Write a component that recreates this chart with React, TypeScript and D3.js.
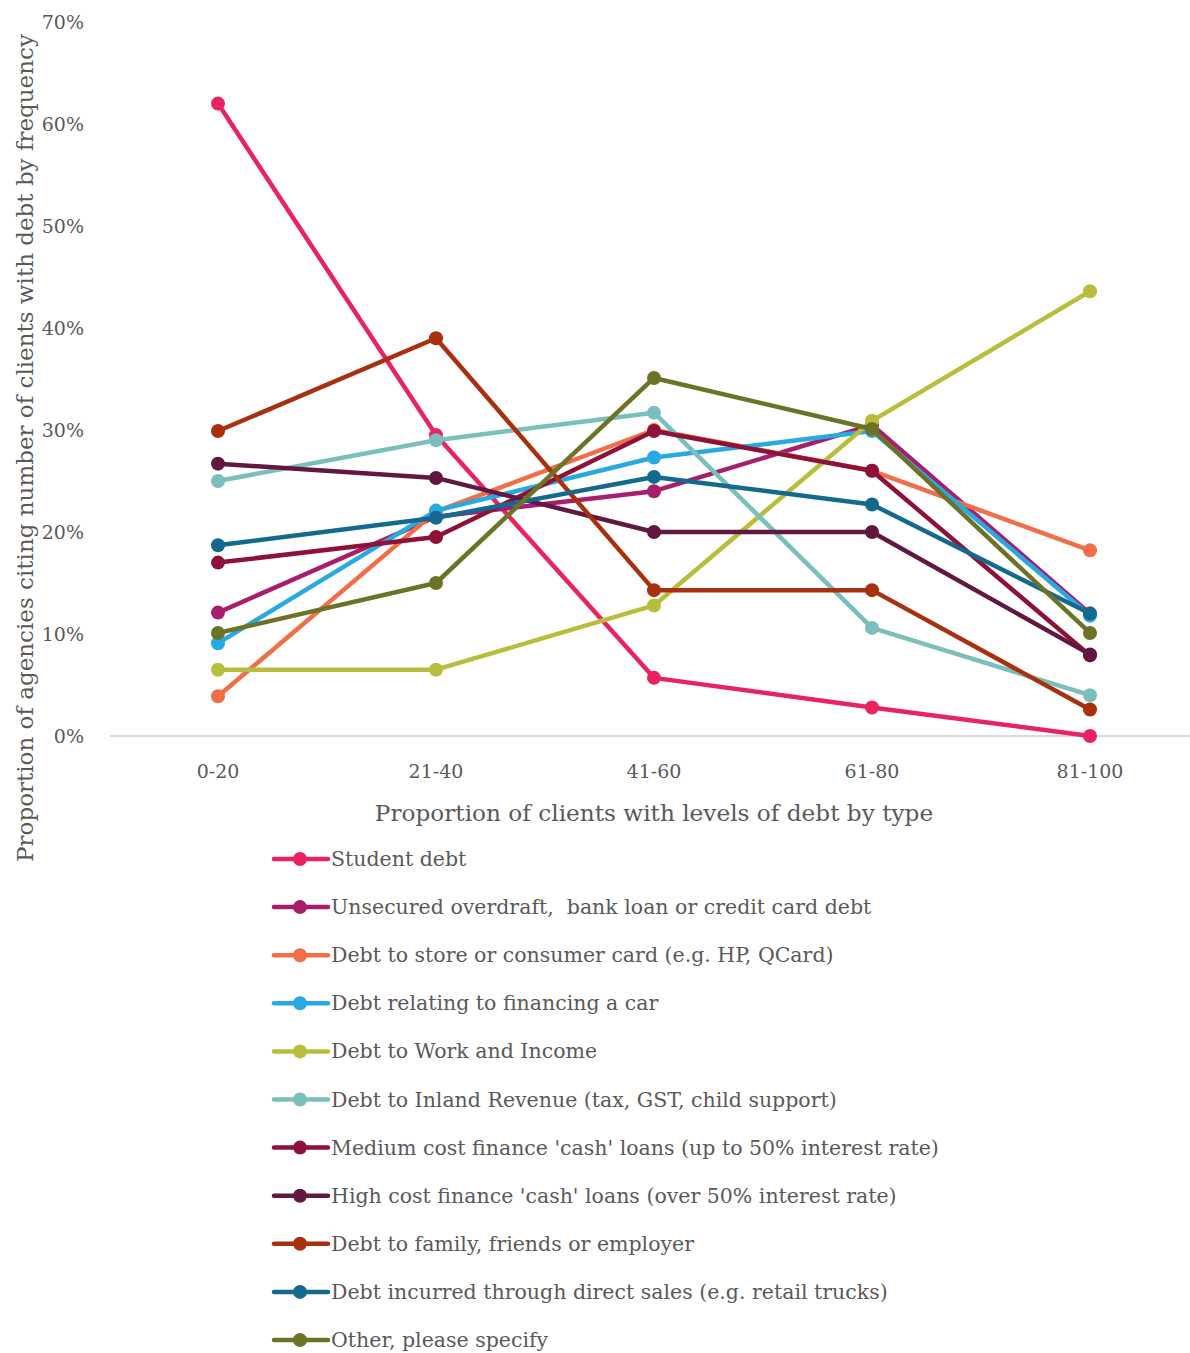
import { useEffect, useRef } from "react"
import * as d3 from "d3"

const categories = ["0-20", "21-40", "41-60", "61-80", "81-100"]

const seriesNames = [
  "Student debt",
  "Unsecured overdraft,  bank loan or credit card debt",
  "Debt to store or consumer card (e.g. HP, QCard)",
  "Debt relating to financing a car",
  "Debt to Work and Income",
  "Debt to Inland Revenue (tax, GST, child support)",
  "Medium cost finance 'cash' loans (up to 50% interest rate)",
  "High cost finance 'cash' loans (over 50% interest rate)",
  "Debt to family, friends or employer",
  "Debt incurred through direct sales (e.g. retail trucks)",
  "Other, please specify",
]

const studentDebt = [0.62, 0.295, 0.057, 0.028, 0.0]
const unsecured = [0.121, 0.215, 0.24, 0.305, 0.12]
const storeCard = [0.039, 0.22, 0.3, 0.26, 0.182]
const carDebt = [0.091, 0.221, 0.273, 0.299, 0.118]
const workIncome = [0.065, 0.065, 0.128, 0.309, 0.436]
const inlandRevenue = [0.25, 0.29, 0.317, 0.106, 0.04]
const mediumCost = [0.17, 0.195, 0.299, 0.26, 0.079]
const highCost = [0.267, 0.253, 0.2, 0.2, 0.08]
const family = [0.299, 0.39, 0.143, 0.143, 0.026]
const directSales = [0.187, 0.214, 0.254, 0.227, 0.12]
const other = [0.101, 0.15, 0.351, 0.301, 0.101]

const allValues = [
  studentDebt, unsecured, storeCard, carDebt, workIncome, inlandRevenue,
  mediumCost, highCost, family, directSales, other,
]

const colors = [
  "#E8235F", "#A61E6C", "#F06E48", "#29A9E1", "#B8BE3C", "#7ABFBC",
  "#8E1238", "#611741", "#A8300F", "#146A8E", "#6C7327",
]

const yTicks = [0, 0.1, 0.2, 0.3, 0.4, 0.5, 0.6, 0.7]

export default function App() {
  const svgRef = useRef<SVGSVGElement>(null)

  useEffect(() => {
    if (!svgRef.current) return
    const svg = d3.select(svgRef.current)
    svg.selectAll("*").remove()

    const font = "'DejaVu Serif', serif"
    const textColor = "#595959"

    // Scales (page coords, svg sits at 0,0 of viewport)
    const x = d3.scalePoint().domain(categories).range([218, 1090])
    const y = d3.scaleLinear().domain([0, 0.7]).range([736, 22])

    // Baseline
    svg.append("line")
      .attr("x1", 110).attr("x2", 1190)
      .attr("y1", y(0)).attr("y2", y(0))
      .attr("stroke", "#d9d9d9").attr("stroke-width", 2)

    // Y tick labels
    svg.append("g")
      .selectAll("text")
      .data(yTicks)
      .enter()
      .append("text")
      .attr("x", 84)
      .attr("y", (d) => y(d) + 7)
      .attr("text-anchor", "end")
      .attr("font-family", font)
      .attr("font-size", 19)
      .attr("fill", textColor)
      .text((d) => `${Math.round(d * 100)}%`)

    // X tick labels
    svg.append("g")
      .selectAll("text")
      .data(categories)
      .enter()
      .append("text")
      .attr("x", (d) => x(d) || 0)
      .attr("y", 778)
      .attr("text-anchor", "middle")
      .attr("font-family", font)
      .attr("font-size", 19)
      .attr("fill", textColor)
      .text((d) => d)

    // Axis titles
    svg.append("text")
      .attr("x", 654)
      .attr("y", 821)
      .attr("text-anchor", "middle")
      .attr("font-family", font)
      .attr("font-size", 23.2)
      .attr("fill", textColor)
      .text("Proportion of clients with levels of debt by type")

    svg.append("text")
      .attr("transform", "translate(33,448) rotate(-90)")
      .attr("text-anchor", "middle")
      .attr("font-family", font)
      .attr("font-size", 23)
      .attr("fill", textColor)
      .text("Proportion of agencies citing number of clients with debt by frequency")

    // Lines and markers
    const line = d3.line<number>()
      .x((_, i) => x(categories[i]) || 0)
      .y((d) => y(d))

    allValues.forEach((vals, si) => {
      const g = svg.append("g")
      g.append("path")
        .datum(vals)
        .attr("d", line)
        .attr("fill", "none")
        .attr("stroke", colors[si])
        .attr("stroke-width", 4.5)
        .attr("stroke-linejoin", "round")
      g.selectAll("circle")
        .data(vals)
        .enter()
        .append("circle")
        .attr("cx", (_, i) => x(categories[i]) || 0)
        .attr("cy", (d) => y(d))
        .attr("r", 7)
        .attr("fill", colors[si])
    })

    // Legend
    const legend = svg.append("g")
    seriesNames.forEach((name, i) => {
      const ly = 859 + i * 48.1
      const item = legend.append("g")
      item.append("line")
        .attr("x1", 274).attr("x2", 328)
        .attr("y1", ly).attr("y2", ly)
        .attr("stroke", colors[i])
        .attr("stroke-width", 4.5)
        .attr("stroke-linecap", "round")
      item.append("circle")
        .attr("cx", 300).attr("cy", ly).attr("r", 7)
        .attr("fill", colors[i])
      item.append("text")
        .attr("x", 331)
        .attr("y", ly + 7)
        .attr("font-family", font)
        .attr("font-size", 20.5)
        .attr("fill", textColor)
        .attr("xml:space", "preserve")
        .style("white-space", "pre")
        .text(name)
    })
  }, [])

  return (
    <svg
      ref={svgRef}
      width={1190}
      height={1353}
      style={{ position: "absolute", left: 0, top: 0, background: "#fff" }}
    />
  )
}
